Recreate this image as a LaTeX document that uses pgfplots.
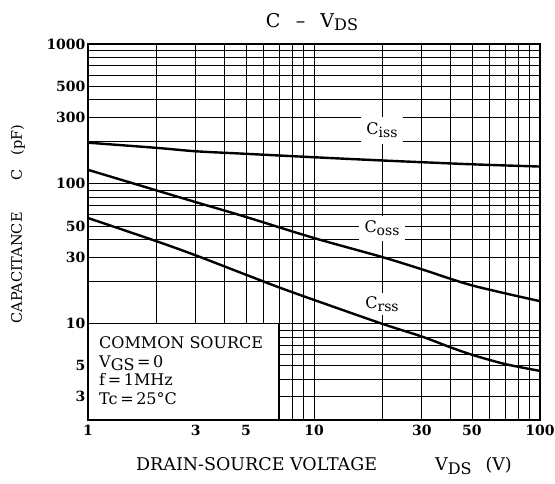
\documentclass[border=0pt]{standalone}
\usepackage{fontspec}
\setmainfont{DejaVu Serif}
\usepackage{pgfplots}
\pgfplotsset{compat=1.18}
\begin{document}
\begin{tikzpicture}
\begin{axis}[
  name=ax,
  at={(0pt,0pt)}, anchor=south west,
  scale only axis,
  width=452pt, height=376pt,
  xmode=log, ymode=log,
  xmin=1, xmax=100, ymin=2.05, ymax=1000,
  xtick={1,3,5,10,30,50,100},
  xticklabels={1,3,5,10,30,50,100},
  ytick={3,5,10,30,50,100,300,500,1000},
  yticklabels={3,5,10,30,50,100,300,500,1000},
  minor xtick={2,4,6,7,8,9,20,40,60,70,80,90},
  minor ytick={4,6,7,8,9,20,40,60,70,80,90,200,400,600,700,800,900},
  grid=both,
  major grid style={black, line width=0.8pt},
  minor grid style={black, line width=0.8pt},
  tick style={draw=none},
  axis line style={line width=1.8pt},
  /pgf/number format/assume math mode=true,
  ticklabel style={font=\bfseries\fontsize{14}{16}\selectfont},
  xticklabel style={yshift=-2pt},
  yticklabel style={xshift=1pt},
  clip=false,
]
\addplot[black, line width=2.4pt, smooth] coordinates {
  (1,197)(2,181)(3,171)(5,164)(10,155)(20,147)(50,138)(100,133)};
\addplot[black, line width=2.4pt, smooth] coordinates {
  (1,126)(2,90)(3,74)(5,58)(10,41)(20,30)(30,24.5)(40,21)(50,18.8)(70,16.5)(100,14.5)};
\addplot[black, line width=2.4pt, smooth] coordinates {
  (1,57)(2,39)(3,30.8)(5,22.4)(7,18.2)(10,14.8)(20,10)(30,8.1)(40,6.8)(50,6.0)(70,5.15)(100,4.6)};
\node[fill=white, minimum width=42pt, minimum height=27pt, inner sep=0pt, font=\fontsize{16}{18}\selectfont]
  at (axis cs:20,242) {C\raisebox{-0.35ex}{\fontsize{14}{16}\selectfont iss}};
\node[fill=white, minimum width=46pt, minimum height=25pt, inner sep=0pt, font=\fontsize{16}{18}\selectfont]
  at (axis cs:20,48) {C\raisebox{-0.35ex}{\fontsize{14}{16}\selectfont oss}};
\node[fill=white, minimum width=42pt, minimum height=22pt, inner sep=0pt, font=\fontsize{16}{18}\selectfont]
  at (axis cs:20,13.8) {C\raisebox{-0.35ex}{\fontsize{14}{16}\selectfont rss}};
\draw[line width=1.4pt, fill=white] (axis cs:1,2.05) rectangle (axis cs:7,10);
\node[anchor=north west, align=left, inner sep=0pt, font=\fontsize{16}{18.5}\selectfont]
  at ([xshift=11pt,yshift=-13pt]axis cs:1,10)
  {COMMON SOURCE\\V\raisebox{-0.35ex}{GS}\,=\,0\\f\,=\,1MHz\\Tc\,=\,25°C};
\end{axis}
\node[font=\fontsize{19}{21}\selectfont] at (224pt,398pt) {C \ \,--\, \ V\raisebox{-0.35ex}{\fontsize{16}{17}\selectfont DS}};
\node[font=\fontsize{17.5}{19}\selectfont] at (236pt,-46pt)
  {DRAIN-SOURCE VOLTAGE\hspace{58pt}V\raisebox{-0.35ex}{\fontsize{16}{17}\selectfont DS}\hspace{14pt}(V)};
\node[rotate=90, font=\fontsize{14.5}{16}\selectfont] at (-70pt,196pt)
  {CAPACITANCE\hspace{32pt}C\hspace{14pt}(pF)};
\pgfresetboundingbox
\path (-88pt,-64pt) rectangle (467pt,420pt);
\end{tikzpicture}
\end{document}
